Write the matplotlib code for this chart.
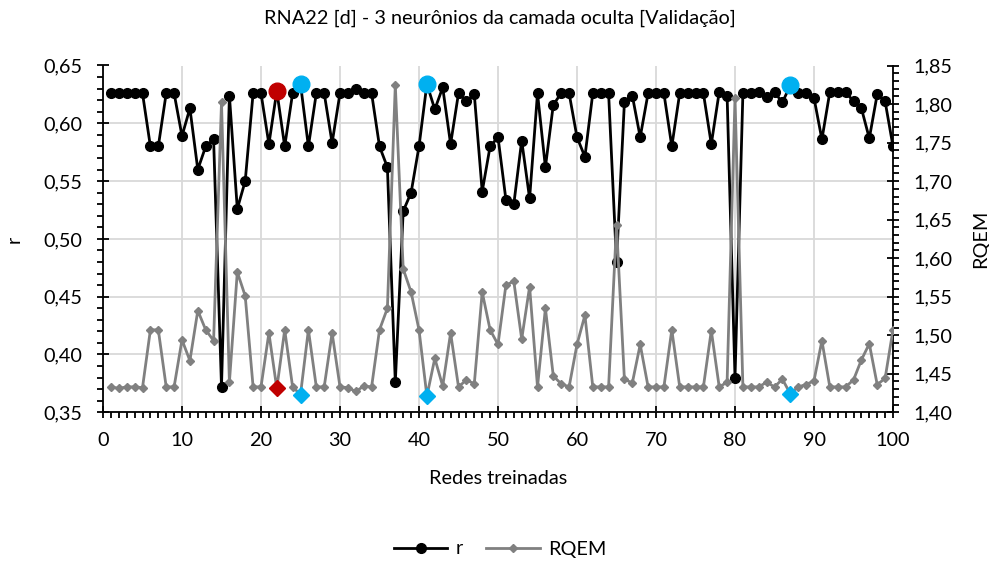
import matplotlib
matplotlib.use("Agg")
import matplotlib.pyplot as plt
from matplotlib.ticker import MultipleLocator, FuncFormatter
from matplotlib.lines import Line2D

plt.rcParams['font.family'] = ['Lato', 'DejaVu Sans']

redes = list(range(1, 101))
r_vals = [0.626, 0.626, 0.626, 0.626, 0.626, 0.580, 0.580, 0.626, 0.626, 0.589,
          0.613, 0.560, 0.580, 0.586, 0.372, 0.624, 0.526, 0.550, 0.626, 0.626,
          0.582, 0.628, 0.580, 0.626, 0.634, 0.580, 0.626, 0.626, 0.583, 0.626,
          0.626, 0.630, 0.626, 0.626, 0.580, 0.562, 0.376, 0.524, 0.540, 0.580,
          0.634, 0.612, 0.631, 0.582, 0.626, 0.619, 0.625, 0.541, 0.580, 0.588,
          0.534, 0.530, 0.585, 0.535, 0.626, 0.562, 0.616, 0.626, 0.626, 0.588,
          0.571, 0.626, 0.626, 0.626, 0.480, 0.618, 0.624, 0.588, 0.626, 0.626,
          0.626, 0.580, 0.626, 0.626, 0.626, 0.626, 0.582, 0.627, 0.624, 0.380,
          0.626, 0.626, 0.627, 0.623, 0.627, 0.618, 0.633, 0.626, 0.626, 0.622,
          0.586, 0.627, 0.627, 0.627, 0.619, 0.613, 0.587, 0.625, 0.619, 0.580]
rqem_vals = [1.433, 1.431, 1.433, 1.433, 1.432, 1.507, 1.507, 1.433, 1.433, 1.494,
             1.467, 1.532, 1.507, 1.493, 1.802, 1.439, 1.582, 1.551, 1.433, 1.433,
             1.503, 1.431, 1.507, 1.433, 1.423, 1.507, 1.433, 1.433, 1.503, 1.433,
             1.432, 1.427, 1.434, 1.433, 1.507, 1.535, 1.825, 1.586, 1.556, 1.507,
             1.421, 1.470, 1.434, 1.503, 1.433, 1.442, 1.437, 1.556, 1.507, 1.488,
             1.565, 1.570, 1.495, 1.563, 1.433, 1.535, 1.447, 1.437, 1.433, 1.488,
             1.526, 1.433, 1.433, 1.433, 1.643, 1.443, 1.438, 1.488, 1.433, 1.433,
             1.433, 1.507, 1.433, 1.433, 1.433, 1.433, 1.506, 1.433, 1.439, 1.808,
             1.433, 1.433, 1.433, 1.439, 1.433, 1.443, 1.424, 1.433, 1.436, 1.441,
             1.493, 1.433, 1.433, 1.433, 1.442, 1.468, 1.489, 1.436, 1.444, 1.507]

red_idx = [22]
blue_idx = [25, 41, 87]

title = "RNA22 [d] - 3 neurônios da camada oculta [Validação]"
xlabel = "Redes treinadas"
ylabel_left = "r"
ylabel_right = "RQEM"

fs = 14.3
fig = plt.figure(figsize=(9.89, 5.61), dpi=100)
ax1 = fig.add_axes([103/989, 1-412.3/561, (893-103)/989, (412.3-65.5)/561])
ax2 = ax1.twinx()

grid_c = '#D9D9D9'
ax1.set_xlim(0, 100)
ax1.set_ylim(0.35, 0.65)
ax2.set_ylim(1.40, 1.85)

ax1.xaxis.set_major_locator(MultipleLocator(10))
ax1.xaxis.set_minor_locator(MultipleLocator(1))
ax1.yaxis.set_major_locator(MultipleLocator(0.05))
ax1.yaxis.set_minor_locator(MultipleLocator(0.01))
ax2.yaxis.set_major_locator(MultipleLocator(0.05))
ax2.yaxis.set_minor_locator(MultipleLocator(0.01))

ax1.grid(True, which='major', color=grid_c, linewidth=1.3)
ax1.set_axisbelow(True)

ax1.yaxis.set_major_formatter(FuncFormatter(lambda v, p: f"{v:.2f}".replace('.', ',')))
ax2.yaxis.set_major_formatter(FuncFormatter(lambda v, p: f"{v:.2f}".replace('.', ',')))

for ax in (ax1, ax2):
    ax.spines['top'].set_visible(False)
    for s in ax.spines.values():
        s.set_linewidth(1.3)
ax1.spines['right'].set_visible(False)
ax2.spines['left'].set_visible(False)
ax2.spines['bottom'].set_visible(False)

ax1.tick_params(axis='x', which='major', direction='inout', length=8, width=1.3, labelsize=fs, pad=10)
ax1.tick_params(axis='y', which='major', direction='inout', length=8, width=1.3, labelsize=fs, pad=11)
ax1.tick_params(axis='both', which='minor', direction='out', length=4, width=1.3)
ax2.tick_params(axis='y', which='major', direction='inout', length=8, width=1.3, labelsize=fs, pad=11)
ax2.tick_params(axis='y', which='minor', direction='out', length=4, width=1.3)

ax1.plot(redes, r_vals, color='black', linewidth=2.0, marker='o', markersize=7, zorder=3)
ax2.plot(redes, rqem_vals, color='#808080', linewidth=2.0, marker='D', markersize=4.5, zorder=3)

ax1.plot([redes[i-1] for i in red_idx], [r_vals[i-1] for i in red_idx], linestyle='none',
         marker='o', markersize=12, color='#C00000', zorder=5)
ax1.plot([redes[i-1] for i in blue_idx], [r_vals[i-1] for i in blue_idx], linestyle='none',
         marker='o', markersize=12, color='#00B0F0', zorder=5)
ax2.plot([redes[i-1] for i in red_idx], [rqem_vals[i-1] for i in red_idx], linestyle='none',
         marker='D', markersize=8.5, color='#C00000', zorder=5)
ax2.plot([redes[i-1] for i in blue_idx], [rqem_vals[i-1] for i in blue_idx], linestyle='none',
         marker='D', markersize=8.5, color='#00B0F0', zorder=5)

fig.text(500/989, 1-18/561, title, ha='center', va='center', fontsize=fs)
ax1.set_xlabel(xlabel, fontsize=fs, labelpad=15)
ax1.set_ylabel(ylabel_left, fontsize=fs, labelpad=15)
ax2.set_ylabel(ylabel_right, fontsize=fs, labelpad=14, rotation=90)

handles = [Line2D([], [], color='black', linewidth=2.0, marker='o', markersize=7),
           Line2D([], [], color='#808080', linewidth=2.0, marker='D', markersize=4.5)]
fig.legend(handles, [ylabel_left, ylabel_right], loc='center', bbox_to_anchor=(500/989, 1-549/561),
           ncol=2, frameon=False, fontsize=fs, handlelength=2.7, columnspacing=1.2, handletextpad=0.4)

fig.savefig("out.png", dpi=100)
